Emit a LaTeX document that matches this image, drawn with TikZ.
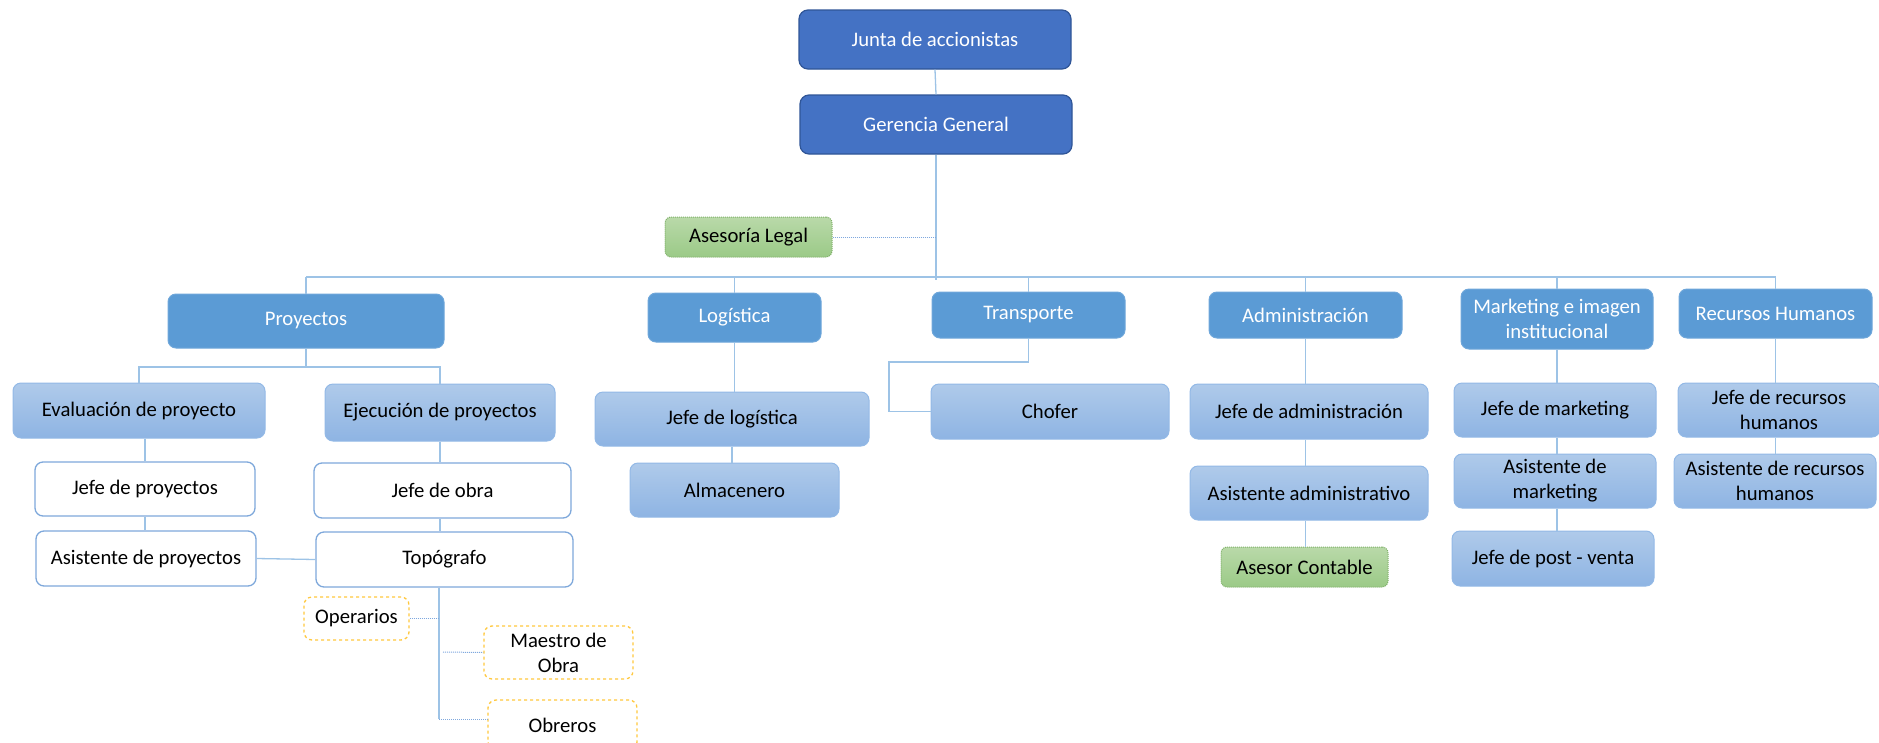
\documentclass[tikz,border=0pt]{standalone}
\usepackage{fontspec}
\setmainfont{Carlito}
\definecolor{topblue}{HTML}{4472C4}
\definecolor{topborder}{HTML}{2F5597}
\definecolor{midblue}{HTML}{5B9BD5}
\definecolor{midborder}{HTML}{6FA7DA}
\definecolor{ltop}{HTML}{AFCAEA}
\definecolor{lbot}{HTML}{8EB4E3}
\definecolor{lborder}{HTML}{93B9E6}
\definecolor{wborder}{HTML}{7EA8DB}
\definecolor{gtop}{HTML}{B9D9A9}
\definecolor{gbot}{HTML}{9BCA87}
\definecolor{gborder}{HTML}{7FB069}
\definecolor{yborder}{HTML}{FFC83D}
\definecolor{conncol}{HTML}{9DC3E6}
\definecolor{dconncol}{HTML}{7FA8DE}
\begin{document}
\begin{tikzpicture}[x=1pt,y=-1pt,
  every node/.style={inner sep=0pt,align=center,font=\fontsize{20.7}{25}\selectfont},
  topbox/.style={fill=topblue,draw=topborder,line width=1.2pt,rounded corners=9pt,text=white},
  lonebox/.style={fill=midblue,draw=midborder,line width=1pt,rounded corners=8pt,text=white},
  ltwobox/.style={top color=ltop,bottom color=lbot,draw=lborder,line width=1pt,rounded corners=8pt,text=black},
  wbox/.style={fill=white,draw=wborder,line width=1.3pt,rounded corners=8pt,text=black},
  gbox/.style={top color=gtop,bottom color=gbot,draw=gborder,densely dotted,line width=1pt,rounded corners=6pt,text=black},
  ybox/.style={fill=white,draw=yborder,dashed,line width=1.3pt,rounded corners=8pt,text=black},
  conn/.style={draw=conncol,line width=1.3pt},
  dconn/.style={draw=dconncol,densely dotted,line width=1pt}]
\useasboundingbox (0,0) rectangle (1879,742);

\coordinate (busL) at (306,277);
\coordinate (busR) at (1776,277);
\coordinate (pj) at (306,367);
\coordinate (tc) at (889,362);
\coordinate (tv) at (439,719);
\coordinate (mv) at (443,652);

% top level
\node[topbox,minimum width=272,minimum height=59] (junta) at (935,39.5) {Junta de accionistas};
\node[topbox,minimum width=272,minimum height=59] (ger) at (936,124.5) {Gerencia General};
\node[gbox,minimum width=167,minimum height=40] (legal) at (748.5,237) {Asesoría Legal};

% level 1
\node[lonebox,minimum width=276,minimum height=54] (proy) at (306,321) {Proyectos};
\node[lonebox,minimum width=173,minimum height=49] (logi) at (734.5,317.5) {Logística};
\node[lonebox,minimum width=193,minimum height=46] (trans) at (1028.5,315) {Transporte};
\node[lonebox,minimum width=193,minimum height=46] (admin) at (1305.5,315) {Administración};
\node[lonebox,minimum width=192,minimum height=60] (mark) at (1557,319) {Marketing e imagen\\institucional};
\node[lonebox,minimum width=193,minimum height=49] (rh) at (1775.5,313.5) {Recursos Humanos};

% proyectos branch
\node[ltwobox,minimum width=252,minimum height=55] (eval) at (139,410.5) {Evaluación de proyecto};
\node[ltwobox,minimum width=230,minimum height=57] (ejec) at (440,412.5) {Ejecución de proyectos};
\node[wbox,minimum width=220,minimum height=54] (jproy) at (145,489) {Jefe de proyectos};
\node[wbox,minimum width=257,minimum height=55] (jobra) at (442.5,490.5) {Jefe de obra};
\node[wbox,minimum width=220,minimum height=55] (aproy) at (146,558.5) {Asistente de proyectos};
\node[wbox,minimum width=257,minimum height=55] (topo) at (444.5,559.5) {Topógrafo};
\node[ybox,minimum width=105,minimum height=43] (oper) at (356.5,618.5) {Operarios};
\node[ybox,minimum width=149,minimum height=53] (maestro) at (558.5,652.5) {Maestro de\\Obra};
\node[ybox,minimum width=149,minimum height=50] (obreros) at (562.5,725) {Obreros};

% logistica / transporte
\node[ltwobox,minimum width=274,minimum height=54] (jlog) at (732,419) {Jefe de logística};
\node[ltwobox,minimum width=209,minimum height=54] (alm) at (734.5,490) {Almacenero};
\node[ltwobox,minimum width=238,minimum height=55] (chofer) at (1050,411.5) {Chofer};

% administracion
\node[ltwobox,minimum width=238,minimum height=55] (jadm) at (1309,411.5) {Jefe de administración};
\node[ltwobox,minimum width=238,minimum height=54] (aadm) at (1309,493) {Asistente administrativo};
\node[gbox,minimum width=167,minimum height=40] (acont) at (1304.5,567) {Asesor Contable};

% marketing
\node[ltwobox,minimum width=202,minimum height=54] (jmark) at (1555,410) {Jefe de marketing};
\node[ltwobox,minimum width=202,minimum height=54] (amark) at (1555,481) {Asistente de\\marketing};
\node[ltwobox,minimum width=202,minimum height=55] (jpost) at (1553,558.5) {Jefe de post - venta};

% RRHH
\node[ltwobox,minimum width=202,minimum height=54] (jrh) at (1779,410) {Jefe de recursos\\humanos};
\node[ltwobox,minimum width=202,minimum height=54] (arh) at (1775,481) {Asistente de recursos\\humanos};

% connectors
\draw[conn] (junta.south) -- (ger.north);
\draw[conn] (ger.south) -- ([yshift=-3pt]ger.south |- busL);
\draw[conn] (busL) -- (busR);
\draw[dconn] (legal.east) -- (legal.east -| ger.south);
\foreach \n in {proy,logi,trans,admin,mark,rh}{
  \draw[conn] (\n.north) -- (\n.north |- busL);
}
\draw[conn] (proy.south) -- (pj);
\draw[conn] (eval.north) -- (eval.north |- pj) -- (ejec.north |- pj) -- (ejec.north);
\draw[conn] (jproy.north |- eval.south) -- (jproy.north);
\draw[conn] (jproy.south) -- (aproy.north -| jproy.south);
\draw[conn] (ejec.south) -- (ejec.south |- jobra.north);
\draw[conn] (ejec.south |- jobra.south) -- (ejec.south |- topo.north);
\draw[conn] (aproy.east) -- (topo.west);
\draw[conn] (topo.south -| tv) -- (tv);
\draw[dconn] (oper.east) -- (oper.east -| tv);
\draw[dconn] (mv) -- (maestro.west);
\draw[dconn] (tv) -- (tv -| obreros.west);
\draw[conn] (logi.south) -- (logi.south |- jlog.north);
\draw[conn] (jlog.south) -- (jlog.south |- alm.north);
\draw[conn] (trans.south) -- (trans.south |- tc) -- (tc) -- (tc |- chofer.west) -- (chofer.west);
\draw[conn] (admin.south) -- (admin.south |- jadm.north);
\draw[conn] (admin.south |- jadm.south) -- (admin.south |- aadm.north);
\draw[conn] (admin.south |- aadm.south) -- (admin.south |- acont.north);
\draw[conn] (mark.south) -- (mark.south |- jmark.north);
\draw[conn] (mark.south |- jmark.south) -- (mark.south |- amark.north);
\draw[conn] (mark.south |- amark.south) -- (mark.south |- jpost.north);
\draw[conn] (rh.south) -- (rh.south |- jrh.north);
\draw[conn] (rh.south |- jrh.south) -- (rh.south |- arh.north);
\end{tikzpicture}
\end{document}
